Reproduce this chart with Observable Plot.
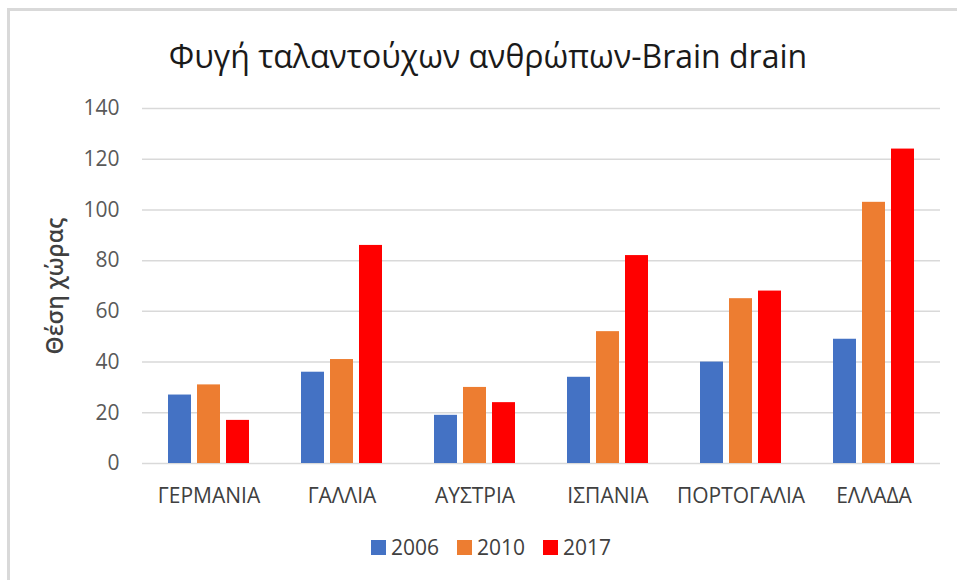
<!DOCTYPE html>
<html>
<head>
<meta charset="utf-8">
<script src="https://cdn.jsdelivr.net/npm/d3@7"></script>
<script src="https://cdn.jsdelivr.net/npm/@observablehq/plot@0.6"></script>
<style>
  html, body { margin: 0; padding: 0; background: #fff; width: 957px; height: 580px; overflow: hidden; }
  #frame { position: absolute; left: 7px; top: 8px; width: 1000px; height: 640px;
           border-top: 3px solid #d9d9d9; border-left: 3px solid #d9d9d9; box-sizing: border-box; }
  #title { position: absolute; left: 8px; width: 960px; top: 36px; text-align: center;
           font-family: "Open Sans", sans-serif; font-size: 32px; color: #1a1a1a; line-height: 40px; }
  .layer { position: absolute; left: 0; top: 90px; }
  #legend { position: absolute; left: 8px; width: 966px; top: 533px; display: flex; justify-content: center;
            font-family: "Open Sans", sans-serif; font-size: 21px; color: #404040; line-height: 28px; }
  .item { display: flex; align-items: center; margin: 0 9px; }
  .sw { width: 15px; height: 15px; margin-right: 5px; }
</style>
</head>
<body>
<div id="frame"></div>
<div id="title">Φυγή ταλαντούχων ανθρώπων-Brain drain</div>
<div id="grid" class="layer"></div>
<div id="bars" class="layer"></div>
<div id="legend"></div>
<script>
const countries = ["ΓΕΡΜΑΝΙΑ", "ΓΑΛΛΙΑ", "ΑΥΣΤΡΙΑ", "ΙΣΠΑΝΙΑ", "ΠΟΡΤΟΓΑΛΙΑ", "ΕΛΛΑΔΑ"];
const years = ["2006", "2010", "2017"];
const values2006 = [27, 36, 19, 34, 40, 49];
const values2010 = [31, 41, 30, 52, 65, 103];
const values2017 = [17, 86, 24, 82, 68, 124];
const yTicks = [0, 20, 40, 60, 80, 100, 120, 140];
const colors = ["#4472C4", "#ED7D31", "#FF0000"];

const series = [values2006, values2010, values2017];
const data = [];
countries.forEach((c, i) => {
  years.forEach((y, j) => data.push({country: c, year: y, value: series[j][i]}));
});

const common = {
  width: 957,
  height: 430,
  marginLeft: 142,
  marginRight: 17,
  marginTop: 18,
  marginBottom: 57,
  style: {fontFamily: "Open Sans, sans-serif", fontSize: "21px", color: "#595959", background: "transparent"}
};

// Layer 1: y axis and full-width gridlines
const gridPlot = Plot.plot({
  ...common,
  y: {domain: [0, 140], ticks: yTicks, tickSize: 0, tickPadding: 23, label: "Θέση χώρας",
      labelAnchor: "center", labelOffset: 96, labelArrow: "none"},
  marks: [
    Plot.ruleY(yTicks, {stroke: "#d9d9d9", strokeWidth: 1.5})
  ]
});
d3.select(gridPlot).selectAll('g[aria-label="y-axis label"] text')
  .attr("font-size", 23).attr("font-weight", 600).attr("fill", "#404040");
document.getElementById("grid").appendChild(gridPlot);

// Layer 2: grouped bars, faceted by country
const barPlot = Plot.plot({
  ...common,
  fx: {domain: countries, paddingInner: 0.376, paddingOuter: 0.18, axis: "bottom", tickSize: 0, tickPadding: 25, label: null},
  x: {domain: years, paddingInner: 0.2, paddingOuter: 0, axis: null},
  y: {domain: [0, 140], axis: null},
  color: {domain: years, range: colors},
  marks: [
    Plot.barY(data, {fx: "country", x: "year", y: "value", fill: "year"})
  ]
});
d3.select(barPlot).selectAll('g[aria-label="fx-axis tick label"]').attr("fill", "#404040");
document.getElementById("bars").appendChild(barPlot);

const legend = document.getElementById("legend");
years.forEach((y, j) => {
  const item = document.createElement("div");
  item.className = "item";
  const sw = document.createElement("div");
  sw.className = "sw";
  sw.style.background = colors[j];
  const t = document.createElement("span");
  t.textContent = y;
  item.appendChild(sw); item.appendChild(t);
  legend.appendChild(item);
});
</script>
</body>
</html>
